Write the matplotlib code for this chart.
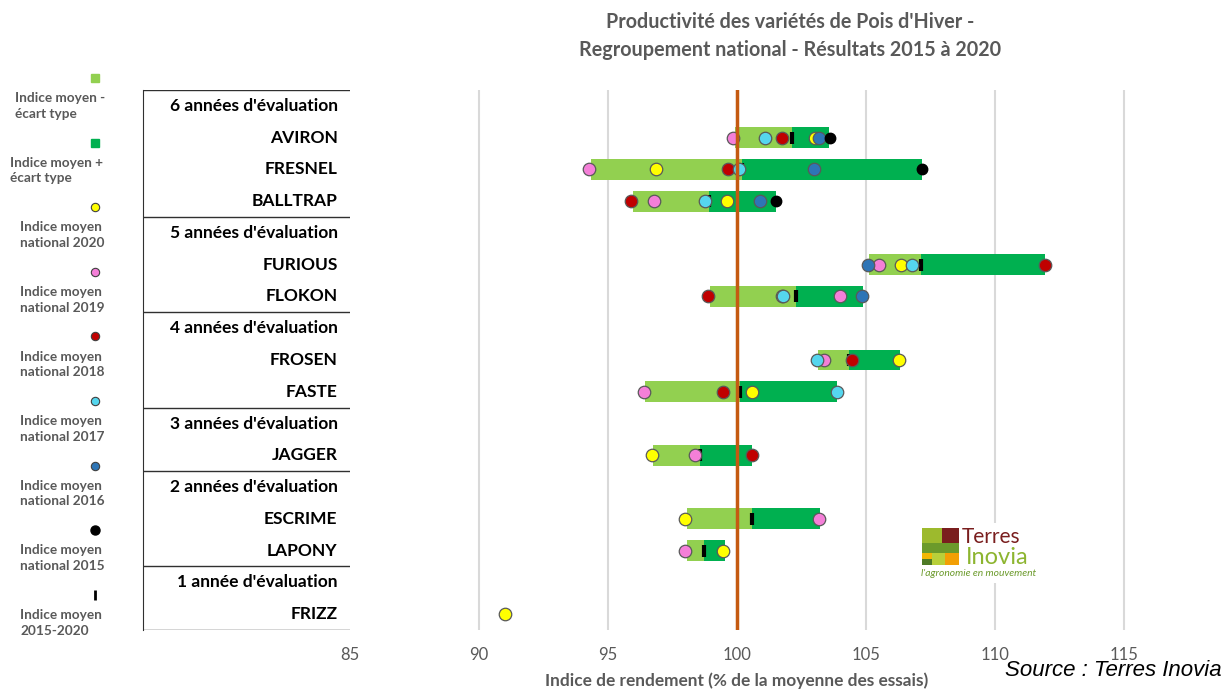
import matplotlib
matplotlib.use('Agg')
import matplotlib.pyplot as plt
import numpy as np
from matplotlib.patches import Rectangle

nan = np.nan

#%% Data

varieties = ['AVIRON', 'FRESNEL', 'BALLTRAP', 'FURIOUS', 'FLOKON', 'FROSEN',
             'FASTE', 'JAGGER', 'ESCRIME', 'LAPONY', 'FRIZZ']
n_years = [6, 6, 6, 5, 5, 4, 4, 3, 2, 2, 1]

# bar ends (lowest and highest yearly index) and the 2015-2020 mean
low = [99.92, 94.33, 95.96, 105.13, 98.95, 103.13, 96.43, 96.76, 98.05, 98.05, nan]
mean = [102.14, 100.21, 98.93, 107.13, 102.31, 104.34, 100.12, 98.57, 100.59, 98.72, nan]
high = [103.58, 107.18, 101.50, 111.96, 104.90, 106.32, 103.89, 100.59, 103.22, 99.53, nan]

# yearly national indexes
ind_2020 = [103.02, 96.86, 99.60, 106.36, 101.75, 106.29, 100.57, 96.72, 97.98, 99.47, 91.0]
ind_2019 = [99.87, 94.28, 96.77, 105.52, 103.99, 103.37, 96.40, 98.37, 103.19, 97.98, nan]
ind_2018 = [101.76, 99.66, 95.89, 111.96, 98.89, 104.47, 99.47, 100.57, nan, nan, nan]
ind_2017 = [101.09, 100.08, 98.76, 106.80, 101.80, 103.09, 103.89, nan, nan, nan, nan]
ind_2016 = [103.19, 102.98, 100.89, 105.07, 104.87, nan, nan, nan, nan, nan, nan]
ind_2015 = [103.60, 107.20, 101.51, nan, nan, nan, nan, nan, nan, nan, nan]

xticks = [85, 90, 95, 100, 105, 110, 115]
ref_value = 100

legend_labels = ['Indice moyen -\nécart type', 'Indice moyen +\nécart type',
                 'Indice moyen\nnational 2020', 'Indice moyen\nnational 2019',
                 'Indice moyen\nnational 2018', 'Indice moyen\nnational 2017',
                 'Indice moyen\nnational 2016', 'Indice moyen\nnational 2015',
                 'Indice moyen\n2015-2020']

#%% Styles

c_light = '#92D050'
c_dark = '#00B050'
year_series = [(ind_2020, '#FFFF00'), (ind_2019, '#F47FD8'), (ind_2018, '#C00000'),
               (ind_2017, '#55D6EE'), (ind_2016, '#2E75B6')]
grey_txt = '#595959'

plt.rcParams['font.family'] = ['Lato', 'DejaVu Sans']

W, H = 1231, 690
fig = plt.figure(figsize=(W/100, H/100), dpi=100)
fx = lambda x: x / W
fy = lambda y: 1 - y / H

# rows: a header for each number of years, then the varieties
rows = []
prev = None
for i, (v, n) in enumerate(zip(varieties, n_years)):
    if n != prev:
        rows.append(("{} année{} d'évaluation".format(n, 's' if n > 1 else ''), None))
        prev = n
    rows.append((v, i))
nrows = len(rows)
ypos = np.array([k for k, (lab, i) in enumerate(rows) if i is not None])
seps = [k - 0.5 for k, (lab, i) in enumerate(rows) if i is None] + [nrows - 0.5]

low, mean, high = np.array(low), np.array(mean), np.array(high)

#%% Background axes in pixels (legend)

bg = fig.add_axes([0, 0, 1, 1], zorder=-1)
bg.set_xlim(0, W)
bg.set_ylim(H, 0)
bg.axis('off')

leg_y = 78 + 64.6 * np.arange(len(legend_labels))
leg_txt_x = [15, 10, 20, 20, 20, 20, 20, 20, 20]
leg_styles = [dict(marker='s', ms=5.5, mfc=c_light, mec=c_light),
              dict(marker='s', ms=5.5, mfc=c_dark, mec=c_dark)]
leg_styles += [dict(marker='o', ms=6, mfc=c, mec='#404040', mew=0.8) for s, c in year_series]
leg_styles += [dict(marker='o', ms=6.5, mfc='k', mec='k'),
               dict(marker='|', ms=7, mew=2, color='k')]
for yy, lab, tx, st in zip(leg_y, legend_labels, leg_txt_x, leg_styles):
    bg.plot([95], [yy], ls='none', **st)
    bg.text(tx, yy + 28, lab, ha='left', va='center', fontsize=9.8,
            color=grey_txt, weight='bold', linespacing=1.35)

#%% Table of labels

tab = fig.add_axes([fx(143), fy(630), fx(350) - fx(143), fy(90) - fy(630)])
tab.set_xlim(0, 1)
tab.set_ylim(nrows - 0.5, -0.5)
for k, (lab, i) in enumerate(rows):
    tab.text(0.94, k, lab, ha='right', va='center', fontsize=12.5, weight='bold')
for s in seps:
    tab.axhline(s, color='#303030', lw=1)
tab.axhline(-0.5, color='#303030', lw=1.2)
for side in ['top', 'right', 'bottom']:
    tab.spines[side].set_visible(False)
tab.spines['left'].set_color('#303030')
tab.set_xticks([])
tab.set_yticks([])
tab.patch.set_alpha(0)

#%% Main plot

ax = fig.add_axes([fx(350), fy(630), fx(1201) - fx(350), fy(90) - fy(630)])
ax.set_xlim(85, 118)
ax.set_ylim(nrows - 0.5, -0.5)
ax.vlines(xticks[1:], -0.5, nrows - 0.5, color='#D9D9D9', lw=1.5, zorder=0)

ax.barh(ypos, mean - low, left=low, height=0.66, color=c_light, zorder=2)
ax.barh(ypos, high - mean, left=mean, height=0.66, color=c_dark, zorder=2)
ax.plot(mean, ypos, ls='none', marker='|', ms=9, mew=3, color='k', zorder=3)

for vals, col in year_series:
    ax.plot(vals, ypos, ls='none', marker='o', ms=9, mfc=col, mec='#595959',
            mew=0.9, zorder=4)
ax.plot(ind_2015, ypos, ls='none', marker='o', ms=7.5, mfc='k', mec='k', zorder=4)

ax.axvline(ref_value, color='#C55A11', lw=2.5, zorder=5)

ax.set_xticks(xticks)
ax.set_yticks([])
ax.tick_params(axis='x', length=0, pad=12, labelsize=12, labelcolor=grey_txt)
for s in ax.spines.values():
    s.set_visible(False)
ax.patch.set_alpha(0)

#%% Logo (white box on top of the grid)

lg = fig.add_axes([fx(917), fy(583), fx(1043) - fx(917), fy(523) - fy(583)], zorder=10)
lg.set_xlim(917, 1043)
lg.set_ylim(583, 523)
lg.axis('off')
lg.add_patch(Rectangle((917, 523), 126, 60, color='white', lw=0))
for x0, y0, w, h, c in [(922, 528, 20, 15, '#9DBA2D'), (942, 528, 17, 15, '#7A1E1E'),
                        (922, 543, 37, 10, '#6B9A2B'), (922, 553, 10, 6, '#F2B705'),
                        (922, 559, 10, 6, '#4E7A25'), (932, 553, 13, 12, '#B8D03A'),
                        (945, 553, 14, 12, '#F29F05')]:
    lg.add_patch(Rectangle((x0, y0), w, h, color=c, lw=0))
lg.text(962, 537, 'Terres', fontsize=15, color='#7A1E1E', va='center', ha='left')
lg.text(966, 557, 'Inovia', fontsize=17, color='#8DB530', va='center', ha='left')
lg.text(921, 574, "l'agronomie en mouvement", fontsize=7.4, color='#6B9A2B',
        va='center', ha='left', style='italic')

#%% Texts

fig.text(fx(790), fy(22), "Productivité des variétés de Pois d'Hiver -", ha='center',
         va='center', fontsize=14.2, color=grey_txt, weight='bold')
fig.text(fx(790), fy(50), 'Regroupement national - Résultats 2015 à 2020', ha='center',
         va='center', fontsize=14.2, color=grey_txt, weight='bold')
fig.text(fx(737), fy(681), 'Indice de rendement (% de la moyenne des essais)',
         ha='center', va='center', fontsize=12.4, color=grey_txt, weight='bold')
fig.text(fx(1222), fy(671), 'Source : Terres Inovia', ha='right', va='center',
         fontsize=16, style='italic', family='Liberation Sans')

fig.savefig('out.png', dpi=100)
